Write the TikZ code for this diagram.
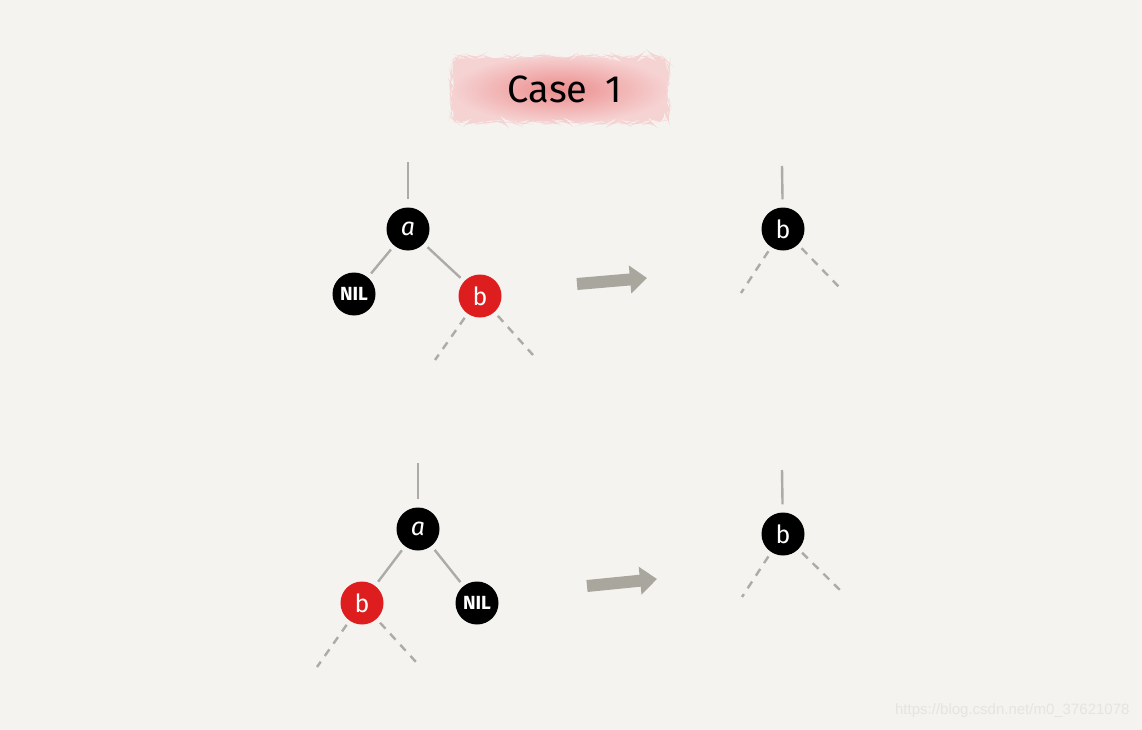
\documentclass[tikz,border=0pt]{standalone}
\usepackage{fontspec}
\setmainfont{Fira Sans}
\newfontfamily\wmfont{Liberation Sans}
\usetikzlibrary{arrows.meta,decorations.pathmorphing}
\definecolor{bg}{HTML}{F4F3EF}
\definecolor{edgegray}{HTML}{ADABA5}
\definecolor{arrowgray}{HTML}{A9A69E}
\definecolor{rbred}{HTML}{DE1E1E}
\definecolor{pinkin}{HTML}{EC8C8C}
\definecolor{pinkout}{HTML}{F6D3D3}
\definecolor{wmgray}{HTML}{E6E4DF}
\tikzset{
  rbnode/.style={circle, minimum size=43pt, inner sep=0pt, text=white,
    font=\fontsize{25}{25}\selectfont},
  blacknode/.style={rbnode, fill=black},
  rednode/.style={rbnode, fill=rbred},
  nilnode/.style={rbnode, fill=black, font=\fontsize{19}{19}\selectfont\bfseries},
  edge/.style={draw=edgegray, line width=2.4pt, shorten <=5pt, shorten >=5pt},
  topedge/.style={draw=edgegray, line width=2.4pt, shorten >=8pt},
  dashedge/.style={draw=edgegray, line width=2.4pt, dash pattern=on 8pt off 7pt, shorten <=5pt},
  bigarrow/.style={draw=arrowgray, line width=12pt,
    -{Triangle[length=17pt, width=27pt]}},
  titlebox/.style={inner color=pinkin, outer color=pinkout,
    decorate, decoration={random steps, segment length=4pt, amplitude=1.8pt}},
}
\begin{document}
\begin{tikzpicture}[x=1pt, y=-1pt]
  \fill[bg] (0,0) rectangle (1142,730);
  \useasboundingbox (0,0) rectangle (1142,730);

  % title
  \shade[titlebox, rounded corners=10pt] (452,57) rectangle (668,122);
  \node (title) at (565,89) {\fontsize{38}{38}\selectfont Case\hspace{18pt}1};

  % ---- top left tree ----
  \coordinate (t1top) at (408,162);
  \node[blacknode] (a1) at (408,229) {\itshape a};
  \node[nilnode] (nil1) at (354,294) {NIL};
  \node[rednode] (b1) at (480,296) {b};
  \coordinate (b1l) at (435,360);
  \coordinate (b1r) at (533,355);
  \draw[topedge] (t1top) -- (a1);
  \draw[edge] (a1) -- (nil1);
  \draw[edge] (a1) -- (b1);
  \draw[dashedge] (b1) -- (b1l);
  \draw[dashedge] (b1) -- (b1r);

  % arrow top
  \coordinate (arr1s) at (577,284);
  \coordinate (arr1e) at (647,278);
  \draw[bigarrow] (arr1s) -- (arr1e);

  % ---- top right tree ----
  \coordinate (t2top) at (782,166);
  \node[blacknode] (b2) at (783,229) {b};
  \coordinate (b2l) at (741,293);
  \coordinate (b2r) at (840,288);
  \draw[topedge] (t2top) -- (b2);
  \draw[dashedge] (b2) -- (b2l);
  \draw[dashedge] (b2) -- (b2r);

  % ---- bottom left tree ----
  \coordinate (t3top) at (418,463);
  \node[blacknode] (a3) at (418,529) {\itshape a};
  \node[rednode] (b3) at (362,603) {b};
  \node[nilnode] (nil3) at (477,603) {NIL};
  \coordinate (b3l) at (317,667);
  \coordinate (b3r) at (416,662);
  \draw[topedge] (t3top) -- (a3);
  \draw[edge] (a3) -- (b3);
  \draw[edge] (a3) -- (nil3);
  \draw[dashedge] (b3) -- (b3l);
  \draw[dashedge] (b3) -- (b3r);

  % arrow bottom
  \coordinate (arr2s) at (587,586);
  \coordinate (arr2e) at (657,579);
  \draw[bigarrow] (arr2s) -- (arr2e);

  % ---- bottom right tree ----
  \coordinate (t4top) at (782,470);
  \node[blacknode] (b4) at (783,534) {b};
  \coordinate (b4l) at (742,597);
  \coordinate (b4r) at (842,592);
  \draw[topedge] (t4top) -- (b4);
  \draw[dashedge] (b4) -- (b4l);
  \draw[dashedge] (b4) -- (b4r);

  % watermark
  \node[anchor=east, text=wmgray, font=\wmfont\fontsize{15}{15}\selectfont] (wm) at (1133,711) {https://blog.csdn.net/m0\_37621078};
\end{tikzpicture}
\end{document}
